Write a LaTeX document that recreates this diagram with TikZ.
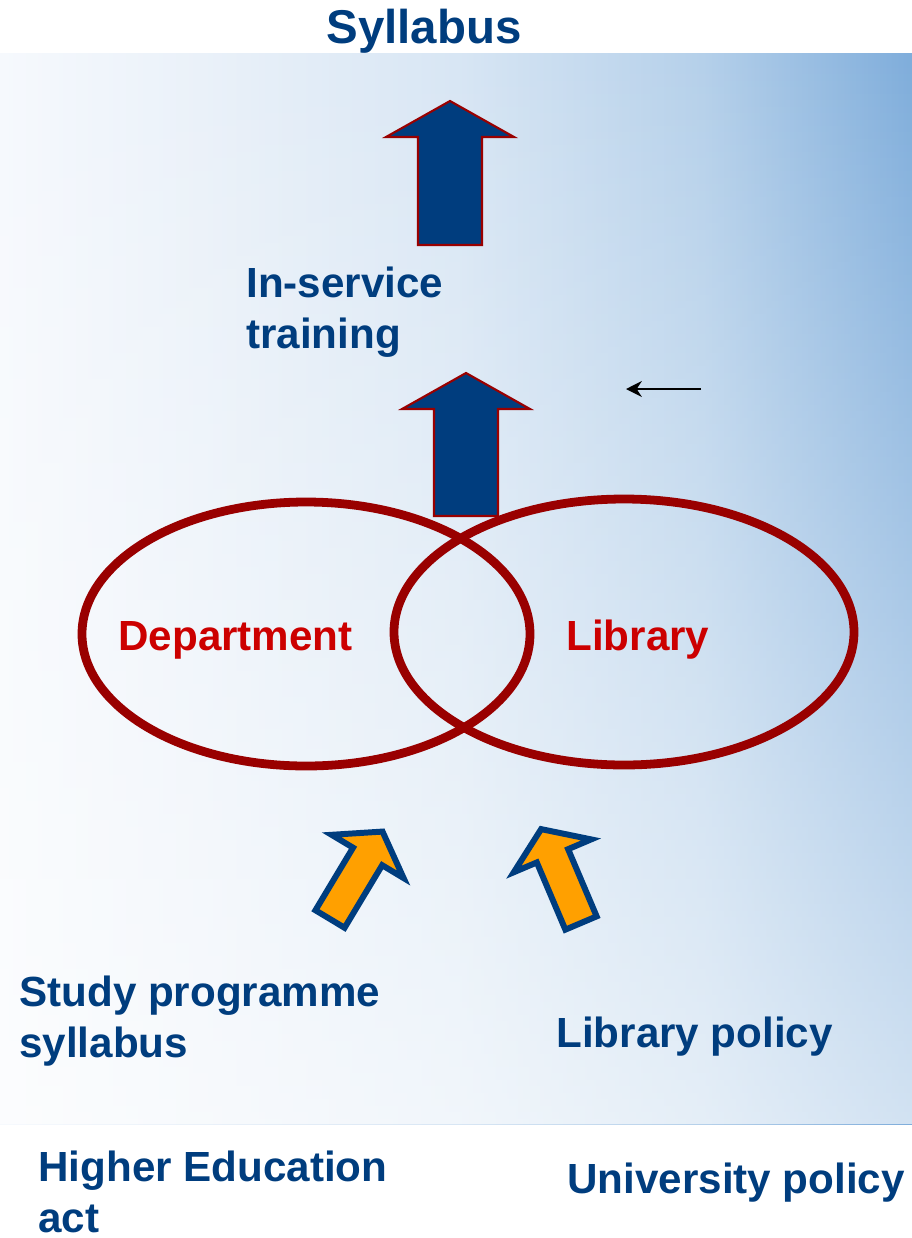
\documentclass[tikz,border=0pt]{standalone}
\usepackage{fontspec}
\setmainfont{Liberation Sans}
\usetikzlibrary{arrows.meta,fadings}

\definecolor{navy}{HTML}{003D7E}
\definecolor{darkred}{HTML}{990000}
\definecolor{brightred}{HTML}{CC0000}
\definecolor{amber}{HTML}{FFA000}
\definecolor{bgA}{HTML}{F6F9FD}
\definecolor{bgB}{HTML}{EAF1F9}
\definecolor{bgC}{HTML}{D8E6F4}
\definecolor{bgD}{HTML}{B5D0EA}
\definecolor{bgE}{HTML}{7FADDB}

\pgfdeclarehorizontalshading{backdrop}{100bp}{
  color(0bp)=(bgA); color(25bp)=(bgA); color(36bp)=(bgB); color(50bp)=(bgC);
  color(63.5bp)=(bgD); color(75bp)=(bgE); color(100bp)=(bgE)}
\tikzfading[name=bottomfade, top color=transparent!100, middle color=transparent!100, bottom color=transparent!35]

\tikzstyle{textlabel} = [font=\fontsize{24}{28.5}\selectfont\bfseries,text=navy,inner sep=0pt,align=left,anchor=base west]
\tikzstyle{setlabel} = [textlabel,text=brightred]
\tikzstyle{ring} = [draw=darkred,line width=5pt]
\tikzstyle{bluearrow} = [fill=navy,draw=darkred,line width=1.2pt,line join=miter]
\tikzstyle{orangearrow} = [fill=amber,draw=navy,line width=3.4pt,line join=miter]
\tikzstyle{pointer} = [draw,line width=1.2pt,-{Stealth[length=9pt,width=9pt]}]

\tikzset{
  pics/blockarrow/.style n args={4}{code={
    % #1 length, #2 half shaft, #3 half head, #4 head length
    \path[pic actions] (-#2,0) -- (-#2,-#1+#4) -- (-#3,-#1+#4) -- (0,-#1)
      -- (#3,-#1+#4) -- (#2,-#1+#4) -- (#2,0) -- cycle;
  }}
}

\begin{document}
\begin{tikzpicture}[x=0.02cm,y=-0.02cm]
      \useasboundingbox (0,0) rectangle (912,1238);
      %background
      \shade[shading=backdrop] (0,53) rectangle (912,1124);
      \fill[white,path fading=bottomfade,fit fading=true] (0,53) rectangle (912,1124);
      %sets
      \draw[ring] (306,634) ellipse [x radius=224, y radius=132];
      \draw[ring] (624,632) ellipse [x radius=230, y radius=133];
      %arrows
      \pic[bluearrow] at (450,245) {blockarrow={144}{32}{64}{36}};
      \pic[bluearrow] at (466,516) {blockarrow={143}{32}{64}{36}};
      \pic[orangearrow,rotate=-31] at (330,919) {blockarrow={102}{17}{42}{29}};
      \pic[orangearrow,rotate=23] at (581,923) {blockarrow={102}{17}{42}{29}};
      \coordinate (ptrstart) at (701,389);
      \coordinate (ptrend) at (626,389);
      \path (ptrstart) edge[pointer] (ptrend);
      %texts (base = last line)
      \node[textlabel,anchor=base,font=\fontsize{27}{30}\selectfont\bfseries] (syllabus) at (424,43) {Syllabus};
      \foreach \nodename/\x/\y/\text in {
        inservice/246/348/{In-service\\training},
        study/19/1057/{Study programme\\syllabus},
        libpolicy/556/1047/{Library policy},
        higher/38/1232/{Higher Education\\act},
        university/567/1193/{University policy}}
      {
        \node[textlabel] (\nodename) at (\x,\y) {\text};
      };
      \node[setlabel] (department) at (118,650) {Department};
      \node[setlabel] (library) at (566,650) {Library};
    \end{tikzpicture}
\end{document}
